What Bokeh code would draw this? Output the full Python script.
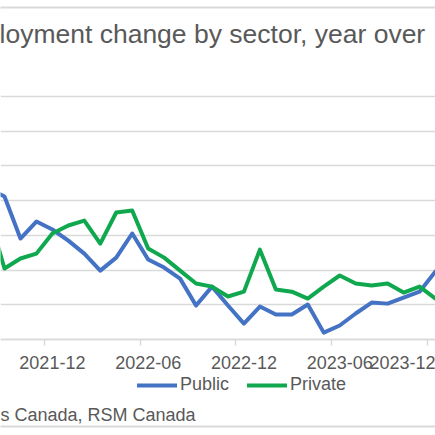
from bokeh.plotting import figure
from bokeh.models import Range1d, FixedTicker, Title, Legend, LinearAxis
from bokeh.embed import file_html
from bokeh.resources import INLINE

# monthly year-over-year employment change (%)
months = [
    "2021-08", "2021-09", "2021-10", "2021-11", "2021-12",
    "2022-01", "2022-02", "2022-03", "2022-04", "2022-05", "2022-06",
    "2022-07", "2022-08", "2022-09", "2022-10", "2022-11", "2022-12",
    "2023-01", "2023-02", "2023-03", "2023-04", "2023-05", "2023-06",
    "2023-07", "2023-08", "2023-09", "2023-10", "2023-11", "2023-12",
]
public = [
    8.70, 8.24, 5.82, 6.80, 6.34,
    5.70, 4.95, 3.97, 4.72, 6.11, 4.61,
    4.15, 3.51, 1.96, 3.05, 1.96, 0.92,
    1.90, 1.44, 1.44, 2.02, 0.40, 0.81,
    1.50, 2.13, 2.07, 2.42, 2.76, 3.92,
]
private = [
    7.26, 4.09, 4.67, 4.95, 6.11,
    6.57, 6.85, 5.53, 7.32, 7.43, 5.24,
    4.72, 3.97, 3.23, 3.05, 2.48, 2.76,
    5.18, 2.88, 2.76, 2.36, 3.05, 3.69,
    3.23, 3.11, 3.23, 2.71, 3.05, 2.36,
]
tick_labels = ["2021-12", "2022-06", "2022-12", "2023-06", "2023-12"]
y_ticks = [0, 2, 4, 6, 8, 10, 12, 14]

TEXT = "#595959"
GRID = "#D9D9D9"
FONT = "Liberation Sans"

x = list(range(len(months)))
label_pos = [months.index(m) for m in tick_labels]


def rule_axis():
    # bare axis used as a thin horizontal rule in the side panels
    return LinearAxis(
        ticker=FixedTicker(ticks=[label_pos[0]]),
        major_label_overrides={label_pos[0]: ""},
        axis_line_color=GRID,
        axis_line_width=2,
        major_tick_line_color=None,
        minor_tick_line_color=None,
        major_tick_out=0,
        major_tick_in=0,
        major_label_standoff=0,
        major_label_text_font_size="0px",
    )


p = figure(
    width=435,
    height=435,
    x_range=Range1d(0.75, 28.0),
    y_range=Range1d(-3.51, 16.19),
    min_border_left=0,
    min_border_right=0,
    min_border_top=58,
    min_border_bottom=35,
    output_backend="svg",
    toolbar_location=None,
)
p.outline_line_color = None
p.yaxis.visible = False
p.xgrid.visible = False

p.ygrid.ticker = FixedTicker(ticks=y_ticks)
p.ygrid.grid_line_color = GRID
p.ygrid.grid_line_width = 1.5

# category axis sits on the zero line, inside the frame
p.xaxis.fixed_location = 0
p.xaxis.ticker = FixedTicker(ticks=label_pos, minor_ticks=[i - 0.5 for i in label_pos])
p.xaxis.major_label_overrides = {i: m for i, m in zip(label_pos, tick_labels)}
p.xaxis.axis_line_color = GRID
p.xaxis.axis_line_width = 1.5
p.xaxis.major_tick_line_color = None
p.xaxis.major_tick_out = 0
p.xaxis.major_tick_in = 0
p.xaxis.minor_tick_line_color = GRID
p.xaxis.minor_tick_line_width = 1.5
p.xaxis.minor_tick_out = 6
p.xaxis.minor_tick_in = 0
p.xaxis.major_label_standoff = 10
p.xaxis.major_label_text_font = FONT
p.xaxis.major_label_text_font_size = "18px"
p.xaxis.major_label_text_color = TEXT

r_pub = p.line(x, public, line_color="#4472C4", line_width=4,
               line_join="round", line_cap="round")
r_pri = p.line(x, private, line_color="#0FA84E", line_width=4,
               line_join="round", line_cap="round")

title = Title(
    text="loyment change by sector, year over",
    align="left",
    offset=-1,
    standoff=19,
    text_font=FONT,
    text_font_size="26.5px",
    text_font_style="normal",
    text_color=TEXT,
)
p.add_layout(title, "above")
p.add_layout(rule_axis(), "above")

legend = Legend(
    items=[("Public", [r_pub]), ("Private", [r_pri])],
    orientation="horizontal",
    location=(137, 5),
    margin=0,
    padding=0,
    spacing=18,
    glyph_width=40,
    glyph_height=20,
    label_height=20,
    label_standoff=3,
    label_text_font=FONT,
    label_text_font_size="18px",
    label_text_color=TEXT,
    background_fill_alpha=0,
    border_line_color=None,
)
p.add_layout(legend, "center")

source = Title(
    text="s Canada, RSM Canada",
    align="left",
    offset=0,
    standoff=4,
    text_font=FONT,
    text_font_size="18px",
    text_font_style="normal",
    text_color=TEXT,
)
p.add_layout(source, "below")
p.add_layout(rule_axis(), "below")

open("out.html", "w").write(file_html(p, INLINE))
